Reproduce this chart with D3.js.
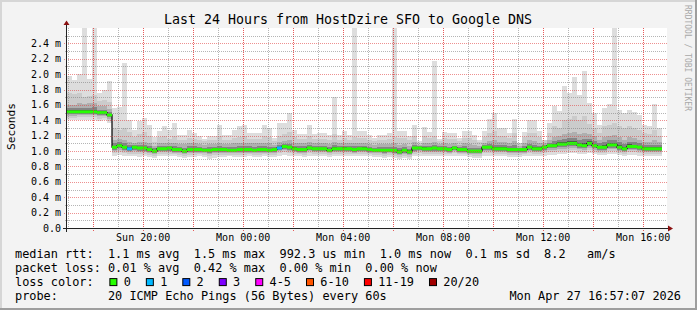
<!DOCTYPE html>
<html>
<head>
<meta charset="utf-8">
<script src="https://cdnjs.cloudflare.com/ajax/libs/d3/7.8.5/d3.min.js"></script>
<style>
  body { margin: 0; background: #f3f3f3; }
  svg text { font-family: "DejaVu Sans Mono", monospace; fill: #000; }
</style>
</head>
<body>
<div id="chart"></div>
<script>
var svgWidth = 697;
var svgHeight = 310;

var margin = { top: 28, left: 67 };
var width = 600;
var height = 200;

// time window of the graph, 12 minute steps
var startTime = new Date(2026, 3, 26, 16, 57, 7);
var endTime = new Date(2026, 3, 27, 16, 57, 7);
var stepSeconds = 720;

// rtt values in ms, one per step
var maxRtt = [1.98, 1.92, 2.00, 2.70, 1.94, 2.70, 1.76, 1.80, 1.91,
  1.56, 1.57, 2.15, 1.41, 1.28, 1.39, 1.43, 1.34, 1.18, 1.26, 1.32,
  1.27, 1.36, 1.21, 1.21, 1.28, 1.23, 1.19, 1.16, 1.19, 1.19, 1.34, 1.21, 1.21, 1.28, 1.32, 1.34, 1.23, 1.23, 1.23, 1.34,
  1.30, 1.17, 1.37, 1.37, 1.50, 1.28, 1.22, 1.22, 1.34, 1.22, 1.23, 1.23, 1.21, 1.70, 1.21, 1.26, 1.21, 2.70, 1.26, 1.26,
  1.21, 1.17, 1.21, 1.21, 1.23, 2.70, 1.26, 1.26, 1.19, 1.34, 1.13, 1.31, 1.25, 2.17, 1.16, 1.25, 1.23, 1.23, 1.17, 1.26,
  1.26, 1.21, 1.15, 1.26, 1.42, 1.49, 1.30, 1.30, 1.23, 1.42, 1.11, 1.25, 1.40, 1.40, 1.26, 1.15, 1.37, 1.58, 1.52, 1.85,
  1.76, 1.96, 1.73, 2.04, 1.62, 1.50, 1.34, 1.56, 1.61, 2.70, 1.54, 1.49, 1.54, 1.51, 1.47, 1.34, 1.32, 1.61, 1.30];

var p90Rtt = [1.75, 1.74, 1.75, 1.70, 1.72, 1.73, 1.65, 1.66, 1.64,
  1.30, 1.28, 1.30, 1.25, 1.18, 1.22, 1.25, 1.20, 1.12, 1.18, 1.20,
  1.16, 1.20, 1.15, 1.15, 1.17, 1.16, 1.14, 1.13, 1.14, 1.14, 1.20, 1.15, 1.15, 1.17, 1.18, 1.19, 1.16, 1.16, 1.16, 1.19,
  1.18, 1.13, 1.20, 1.22, 1.25, 1.18, 1.16, 1.16, 1.20, 1.16, 1.16, 1.16, 1.15, 1.22, 1.15, 1.17, 1.15, 1.18, 1.17, 1.17,
  1.15, 1.13, 1.15, 1.15, 1.16, 1.18, 1.17, 1.17, 1.14, 1.20, 1.11, 1.19, 1.17, 1.20, 1.13, 1.17, 1.16, 1.16, 1.13, 1.17,
  1.17, 1.15, 1.12, 1.18, 1.24, 1.26, 1.20, 1.20, 1.17, 1.24, 1.10, 1.18, 1.24, 1.24, 1.18, 1.15, 1.24, 1.32, 1.30, 1.40,
  1.42, 1.45, 1.40, 1.45, 1.35, 1.30, 1.24, 1.32, 1.34, 1.36, 1.32, 1.30, 1.32, 1.30, 1.28, 1.24, 1.22, 1.28, 1.20];

var p75Rtt = [1.60, 1.60, 1.62, 1.61, 1.62, 1.63, 1.58, 1.58, 1.55,
  1.15, 1.16, 1.15, 1.12, 1.10, 1.12, 1.12, 1.10, 1.07, 1.10, 1.10,
  1.10, 1.11, 1.09, 1.09, 1.10, 1.10, 1.09, 1.08, 1.09, 1.09, 1.11, 1.09, 1.09, 1.10, 1.10, 1.11, 1.10, 1.10, 1.10, 1.11,
  1.10, 1.08, 1.12, 1.13, 1.14, 1.11, 1.10, 1.10, 1.12, 1.10, 1.10, 1.10, 1.09, 1.12, 1.10, 1.11, 1.10, 1.11, 1.10, 1.11,
  1.09, 1.08, 1.09, 1.09, 1.09, 1.10, 1.08, 1.09, 1.07, 1.12, 1.08, 1.11, 1.10, 1.12, 1.09, 1.10, 1.09, 1.10, 1.08, 1.10,
  1.09, 1.08, 1.07, 1.11, 1.13, 1.14, 1.12, 1.12, 1.10, 1.13, 1.07, 1.10, 1.14, 1.13, 1.11, 1.10, 1.14, 1.18, 1.19, 1.22,
  1.24, 1.25, 1.22, 1.24, 1.22, 1.19, 1.15, 1.18, 1.20, 1.21, 1.18, 1.15, 1.18, 1.17, 1.15, 1.12, 1.12, 1.14, 1.12];

var medianRtt = [1.51, 1.51, 1.51, 1.51, 1.51, 1.51, 1.50, 1.50, 1.47,
  1.05, 1.07, 1.05, 1.03, 1.05, 1.04, 1.04, 1.02, 1.00, 1.03, 1.03,
  1.04, 1.02, 1.02, 1.00, 1.02, 1.02, 1.02, 1.01, 1.01, 1.02, 1.02, 1.02, 1.01, 1.01, 1.02, 1.02, 1.02, 1.01, 1.02, 1.02,
  1.01, 1.02, 1.04, 1.06, 1.05, 1.03, 1.02, 1.02, 1.04, 1.03, 1.03, 1.03, 1.01, 1.03, 1.03, 1.03, 1.03, 1.02, 1.03, 1.03,
  1.02, 1.01, 1.01, 1.01, 1.01, 1.01, 0.99, 1.01, 0.99, 1.04, 1.04, 1.03, 1.03, 1.04, 1.03, 1.03, 1.02, 1.04, 1.02, 1.02,
  1.00, 1.00, 1.00, 1.05, 1.05, 1.03, 1.03, 1.03, 1.02, 1.02, 1.02, 1.02, 1.05, 1.03, 1.03, 1.05, 1.07, 1.07, 1.09, 1.09,
  1.10, 1.10, 1.08, 1.07, 1.10, 1.07, 1.05, 1.05, 1.08, 1.08, 1.05, 1.03, 1.06, 1.06, 1.05, 1.03, 1.03, 1.03, 1.03];

var minRtt = [1.40, 1.40, 1.41, 1.41, 1.41, 1.41, 1.39, 1.40, 1.36,
  0.94, 0.95, 0.94, 0.93, 0.93, 0.92, 0.93, 0.92, 0.91, 0.93, 0.93,
  0.93, 0.93, 0.92, 0.91, 0.92, 0.92, 0.93, 0.92, 0.90, 0.91, 0.92, 0.92, 0.93, 0.92, 0.92, 0.92, 0.93, 0.92, 0.92, 0.93,
  0.92, 0.92, 0.94, 0.95, 0.94, 0.93, 0.93, 0.92, 0.94, 0.93, 0.93, 0.93, 0.92, 0.93, 0.93, 0.93, 0.94, 0.93, 0.93, 0.93,
  0.93, 0.92, 0.92, 0.91, 0.92, 0.91, 0.90, 0.91, 0.90, 0.93, 0.94, 0.93, 0.93, 0.93, 0.93, 0.93, 0.93, 0.94, 0.93, 0.93,
  0.92, 0.91, 0.91, 0.94, 0.94, 0.93, 0.93, 0.93, 0.92, 0.92, 0.92, 0.93, 0.94, 0.93, 0.93, 0.94, 0.95, 0.95, 0.96, 0.96,
  0.97, 0.97, 0.96, 0.96, 0.97, 0.96, 0.95, 0.95, 0.96, 0.96, 0.95, 0.94, 0.95, 0.95, 0.94, 0.93, 0.93, 0.93, 0.93];

// lost pings per step (out of 20)
var lostPings = [0, 0, 0, 0, 0, 0, 0, 0, 0,
  0, 0, 0, 1, 0, 0, 0, 0, 0, 0, 0,
  0, 0, 0, 0, 0, 0, 0, 0, 0, 0, 0, 0, 0, 0, 0, 0, 0, 0, 0, 0,
  0, 0, 1, 0, 0, 0, 0, 0, 0, 0, 0, 0, 0, 0, 0, 0, 0, 0, 0, 0,
  0, 0, 0, 0, 0, 0, 0, 0, 0, 0, 0, 0, 0, 0, 0, 0, 0, 0, 0, 0,
  0, 0, 0, 0, 0, 0, 0, 0, 0, 0, 0, 0, 0, 0, 0, 0, 0, 0, 0, 0,
  0, 0, 0, 0, 0, 0, 0, 0, 0, 0, 0, 0, 0, 0, 0, 0, 0, 0, 0];

// loss colour buckets
var lossLabels = ["0", "1", "2", "3", "4-5", "6-10", "11-19", "20/20"];
var lossLimits = [0, 1, 2, 3, 5, 10, 19, 20];
var lossColors = ["#26ff00", "#00b8ff", "#0059ff", "#7e00ff", "#ff00ff", "#ff5500", "#ff0000", "#a10000"];

var yTicks = [0.0, 0.2, 0.4, 0.6, 0.8, 1.0, 1.2, 1.4, 1.6, 1.8, 2.0, 2.2, 2.4];

var titleText = "Last 24 Hours from HostDzire SFO to Google DNS";
var statsRtt = [[0, "median rtt:"], [13, "1.1 ms avg"], [25, "1.5 ms max"], [37, "992.3 us min"],
  [51, "1.0 ms now"], [63, "0.1 ms sd"], [74, "8.2"], [80, "am/s"]];
var statsLoss = [[0, "packet loss:"], [13, "0.01 % avg"], [25, "0.42 % max"], [37, "0.00 % min"], [49, "0.00 % now"]];
var probeText = [[0, "probe:"], [13, "20 ICMP Echo Pings (56 Bytes) every 60s"]];
var stampText = "Mon Apr 27 16:57:07 2026";

var steps = medianRtt.map(function(d, i) {
  var t0 = new Date(startTime.getTime() + i * stepSeconds * 1000);
  var t1 = new Date(t0.getTime() + stepSeconds * 1000);
  return { i: i, t0: t0, t1: t1 };
});

function lossColor(n) {
  for (var k = 0; k < lossLimits.length; k++) {
    if (n <= lossLimits[k]) return lossColors[k];
  }
  return lossColors[lossColors.length - 1];
}

var svg = d3.select("#chart")
  .append("svg")
  .attr("width", svgWidth)
  .attr("height", svgHeight);

var defs = svg.append("defs");

// 3d frame
svg.append("rect").attr("width", svgWidth).attr("height", svgHeight).attr("fill", "#f3f3f3");
svg.append("path").attr("d", "M0,0H697V2H2V310H0Z").attr("fill", "#d6d6d6");
svg.append("path").attr("d", "M697,0V310H0V308H695V0Z").attr("fill", "#9e9e9e");

var xScale = d3.scaleTime().domain([startTime, endTime]).range([0, width]);
var yScale = d3.scaleLinear().domain([0, 2.6]).range([height, 0]);

var chartGroup = svg.append("g")
  .attr("transform", `translate(${margin.left}, ${margin.top})`);

chartGroup.append("rect")
  .attr("width", width)
  .attr("height", height)
  .attr("fill", "#fff");

defs.append("clipPath").attr("id", "plot")
  .append("rect").attr("width", width).attr("height", height);

var plot = chartGroup.append("g").attr("clip-path", "url(#plot)");

// smoke, from the outside in
var layers = [
  { fill: "#dddddd", lo: i => minRtt[i], hi: i => maxRtt[i] },
  { fill: "#cbcbcb", lo: i => minRtt[i] + 0.3 * (medianRtt[i] - minRtt[i]), hi: i => p90Rtt[i] },
  { fill: "#afafaf", lo: i => minRtt[i] + 0.55 * (medianRtt[i] - minRtt[i]), hi: i => p75Rtt[i] },
  { fill: "#858585", lo: i => medianRtt[i] - 0.3 * (medianRtt[i] - minRtt[i]), hi: i => medianRtt[i] + 0.5 * (p75Rtt[i] - medianRtt[i]) },
  { fill: "#4f4f4f", lo: i => medianRtt[i] - 0.12 * (medianRtt[i] - minRtt[i]), hi: i => medianRtt[i] + 0.22 * (p75Rtt[i] - medianRtt[i]) }
];

layers.forEach(function(layer) {
  plot.append("g").selectAll("rect")
    .data(steps)
    .enter()
    .append("rect")
    .attr("x", d => xScale(d.t0))
    .attr("width", d => xScale(d.t1) - xScale(d.t0))
    .attr("y", d => yScale(layer.hi(d.i)))
    .attr("height", d => yScale(layer.lo(d.i)) - yScale(layer.hi(d.i)))
    .attr("fill", layer.fill)
    .attr("shape-rendering", "crispEdges");
});

// thin black median underneath, shows the jumps
var stepLine = d3.line()
  .x(d => xScale(d.t))
  .y(d => yScale(d.v))
  .curve(d3.curveStepAfter);

var linePts = steps.map(d => ({ t: d.t0, v: medianRtt[d.i] }));
linePts.push({ t: steps[steps.length - 1].t1, v: medianRtt[steps.length - 1] });

plot.append("path")
  .datum(linePts)
  .attr("d", stepLine)
  .attr("fill", "none")
  .attr("stroke", "#000")
  .attr("stroke-width", 1.2);

// median coloured by loss
plot.append("g").selectAll("rect")
  .data(steps)
  .enter()
  .append("rect")
  .attr("x", d => xScale(d.t0))
  .attr("width", d => xScale(d.t1) - xScale(d.t0))
  .attr("y", d => yScale(medianRtt[d.i]) - 1.5)
  .attr("height", 3)
  .attr("fill", d => lossColor(lostPings[d.i]));

// grid
var majorColor = "rgba(225,70,70,0.6)";
var minorColor = "rgba(120,120,120,0.55)";
var vMajorColor = "rgba(228,60,60,0.85)";

// vertical dotted lines built from 1px segments (dash arrays come out too faint)
function vDots(x, y0, y1) {
  var p = d3.path();
  for (var y = y0; y < y1; y += 2) { p.moveTo(x + 0.5, y); p.lineTo(x + 0.5, y + 1); }
  return p.toString();
}

var hourTicks = d3.timeHour.every(1).range(startTime, endTime);
var gridGroup = chartGroup.append("g");

gridGroup.selectAll("path.vgrid")
  .data(hourTicks)
  .enter()
  .append("path")
  .attr("class", "vgrid")
  .attr("shape-rendering", "crispEdges")
  .attr("d", d => vDots(Math.round(xScale(d)), 0, d.getHours() % 2 === 0 ? height + 3 : height + 2))
  .attr("fill", "none")
  .attr("stroke", d => d.getHours() % 2 === 0 ? vMajorColor : minorColor);

var yGrid = d3.range(1, 26).map(k => k / 10);
gridGroup.selectAll("line.hgrid")
  .data(yGrid)
  .enter()
  .append("line")
  .attr("class", "hgrid")
  .attr("x1", d => Math.round(d * 10) % 2 === 0 ? -3 : -2)
  .attr("x2", width)
  .attr("y1", d => Math.round(yScale(d)) + 0.5)
  .attr("y2", d => Math.round(yScale(d)) + 0.5)
  .attr("stroke", d => Math.round(d * 10) % 2 === 0 ? majorColor : minorColor)
  .attr("stroke-dasharray", "1,1");

// axes with arrows
chartGroup.append("line")
  .attr("x1", -4).attr("x2", width + 1)
  .attr("y1", height + 0.5).attr("y2", height + 0.5)
  .attr("stroke", "#222");
chartGroup.append("line")
  .attr("x1", -0.5).attr("x2", -0.5)
  .attr("y1", height + 4).attr("y2", -3)
  .attr("stroke", "#222");
chartGroup.append("path")
  .attr("d", `M${width + 1},${height - 2.5}L${width + 6},${height + 0.5}L${width + 1},${height + 3.5}Z`)
  .attr("fill", "#8b1010");
chartGroup.append("path")
  .attr("d", "M-3.5,-3L-0.5,-7.5L2.5,-3Z")
  .attr("fill", "#8b1010");

// y labels
chartGroup.selectAll(".ylab")
  .data(yTicks)
  .enter()
  .append("text")
  .attr("x", -6)
  .attr("y", d => yScale(d) + 3.5)
  .attr("text-anchor", "end")
  .style("font-size", "10px")
  .text(d => d === 0 ? "0.0" : d.toFixed(1) + " m");

// x labels every 4 hours
var fmt = d3.timeFormat("%a %H:%M");
chartGroup.selectAll(".xlab")
  .data(hourTicks.filter(d => d.getHours() % 4 === 0))
  .enter()
  .append("text")
  .attr("x", d => xScale(d))
  .attr("y", height + 13)
  .attr("text-anchor", "middle")
  .style("font-size", "10px")
  .text(d => fmt(d));

// title and side texts
svg.append("text")
  .attr("x", 348)
  .attr("y", 24)
  .attr("text-anchor", "middle")
  .style("font-size", "13.3px")
  .text(titleText);

svg.append("text")
  .attr("transform", "translate(15, 126.5) rotate(-90)")
  .attr("text-anchor", "middle")
  .style("font-size", "11.2px")
  .text("Seconds");

svg.append("text")
  .attr("transform", "translate(685, 5) rotate(90)")
  .style("font-size", "8px")
  .style("fill", "#a8a8a8")
  .text("RRDTOOL / TOBI OETIKER");

// legend
var charW = 7.15;
var legendX = 15;
var legendSize = "11.88px";
var rowY = [258.3, 272.2, 286.1, 300];

function legendRow(items, y) {
  svg.append("g").selectAll("text")
    .data(items)
    .enter()
    .append("text")
    .attr("x", d => legendX + d[0] * charW)
    .attr("y", y)
    .style("font-size", legendSize)
    .text(d => d[1]);
}

legendRow(statsRtt, rowY[0]);
legendRow(statsLoss, rowY[1]);
legendRow([[0, "loss color:"]], rowY[2]);
legendRow(probeText, rowY[3]);

var boxX = legendX + 13.2 * charW;
lossLabels.forEach(function(lab, k) {
  svg.append("rect")
    .attr("x", boxX + 0.5)
    .attr("y", rowY[2] - 7.5)
    .attr("width", 7)
    .attr("height", 7)
    .attr("fill", lossColors[k])
    .attr("stroke", "#000");
  svg.append("text")
    .attr("x", boxX + 2 * charW)
    .attr("y", rowY[2])
    .style("font-size", legendSize)
    .text(lab);
  boxX = boxX + (lab.length + 4.1) * charW;
});

svg.append("text")
  .attr("x", 681)
  .attr("y", rowY[3])
  .attr("text-anchor", "end")
  .style("font-size", legendSize)
  .text(stampText);
</script>
</body>
</html>
